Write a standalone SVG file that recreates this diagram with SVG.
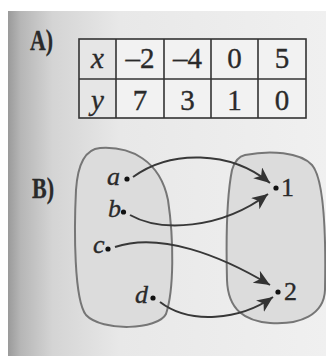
<svg xmlns="http://www.w3.org/2000/svg" width="326" height="356" viewBox="0 0 326 356">
<defs>
<linearGradient id="bg" x1="8" y1="0" x2="326" y2="0" gradientUnits="userSpaceOnUse">
<stop offset="0" stop-color="#9a9a9a"/>
<stop offset="0.04" stop-color="#b6b6b6"/>
<stop offset="0.14" stop-color="#d4d4d4"/>
<stop offset="0.35" stop-color="#e8e8e8"/>
<stop offset="1" stop-color="#f0f0f0"/>
</linearGradient>
<marker id="ah" markerUnits="userSpaceOnUse" markerWidth="17" markerHeight="15" refX="16" refY="7" orient="auto">
<path d="M0,0 L16,7 L0,14 L4.5,7 Z" fill="#333"/>
</marker>
<style>
.lbl{font-family:"Liberation Serif","Times New Roman",serif;fill:#2a2a2a;stroke:#2a2a2a;stroke-width:0.35}
.tbl{font-size:29px;text-anchor:middle}
.it{font-style:italic}
.head{font-weight:bold;font-size:29px}
.blob{fill:#dcdcdc;stroke:#767676;stroke-width:2}
.grid{stroke:#333;stroke-width:1.6;fill:none}
.arr{fill:none;stroke:#383838;stroke-width:2;marker-end:url(#ah)}
.dot{fill:#111}
.pt{font-size:26px}
</style>
</defs>
<rect width="326" height="356" fill="#ffffff"/>
<rect x="8" y="11" width="318" height="345" fill="url(#bg)"/>

<g id="labelA">
<text class="lbl head" x="30" y="50" textLength="23" lengthAdjust="spacingAndGlyphs">A)</text>
</g>

<g id="table">
<rect x="79" y="39" width="227" height="79" fill="#f2f2f2"/>
<rect x="79" y="39" width="37" height="79" fill="#e6e6e6"/>
<rect class="grid" x="79" y="39" width="227" height="79"/>
<line class="grid" x1="79" y1="79" x2="306" y2="79"/>
<line class="grid" x1="116" y1="39" x2="116" y2="118"/>
<line class="grid" x1="164" y1="39" x2="164" y2="118"/>
<line class="grid" x1="211" y1="39" x2="211" y2="118"/>
<line class="grid" x1="258" y1="39" x2="258" y2="118"/>
<text class="lbl tbl it" x="97.5" y="68">x</text>
<text class="lbl tbl" x="140" y="68">–2</text>
<text class="lbl tbl" x="187.5" y="68">–4</text>
<text class="lbl tbl" x="234.5" y="68">0</text>
<text class="lbl tbl" x="282" y="68">5</text>
<text class="lbl tbl it" x="97.5" y="110">y</text>
<text class="lbl tbl" x="140" y="110">7</text>
<text class="lbl tbl" x="187.5" y="110">3</text>
<text class="lbl tbl" x="234.5" y="110">1</text>
<text class="lbl tbl" x="282" y="110">0</text>
</g>

<g id="labelB">
<text class="lbl head" x="32" y="198" textLength="22" lengthAdjust="spacingAndGlyphs">B)</text>
</g>

<g id="setLeft">
<path class="blob" d="M100 148 C130 146 160 160 168 200 C174 240 174 290 166 314 C158 330 102 332 86 315 C74 300 74 230 76 190 C78 160 88 149 100 148 Z"/>
</g>
<g id="setRight">
<path class="blob" d="M245 155 C270 150 300 152 312 165 C325 180 326 240 325 290 C324 315 300 325 270 323 C245 321 228 310 227 280 C226 240 226 200 232 170 C235 160 240 156 245 155 Z"/>
</g>

<g id="a">
<text class="lbl pt it" x="107" y="185">a</text>
<circle class="dot" cx="127" cy="179" r="2.6"/>
</g>
<g id="b">
<text class="lbl pt it" x="108" y="217">b</text>
<circle class="dot" cx="123.5" cy="212" r="2.6"/>
</g>
<g id="c">
<text class="lbl pt it" x="93" y="253">c</text>
<circle class="dot" cx="108" cy="249" r="2.6"/>
</g>
<g id="d">
<text class="lbl pt it" x="135" y="303">d</text>
<circle class="dot" cx="153" cy="298" r="2.6"/>
</g>
<g id="n1">
<circle class="dot" cx="276" cy="188" r="2.6"/>
<text class="lbl pt" x="281" y="196">1</text>
</g>
<g id="n2">
<circle class="dot" cx="278" cy="292" r="2.6"/>
<text class="lbl pt" x="284" y="300">2</text>
</g>

<g id="connectors">
<path class="arr" d="M133 177 C170 150 230 150 270 183"/>
<path class="arr" d="M130 215 C160 232 220 230 268 194"/>
<path class="arr" d="M115 247 C160 232 220 255 270 285"/>
<path class="arr" d="M160 302 C190 325 240 320 273 297"/>
</g>
</svg>
